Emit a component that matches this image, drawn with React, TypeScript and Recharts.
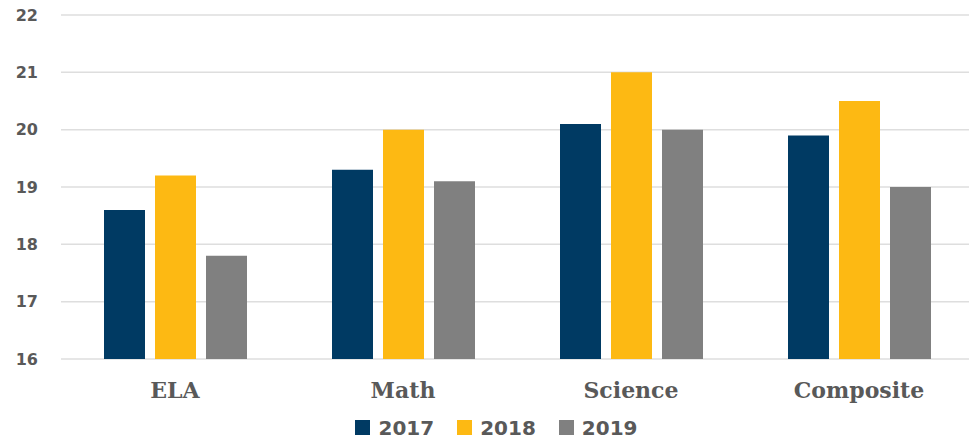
import React from "react";
import { BarChart, Bar, XAxis, YAxis, CartesianGrid, Legend } from "recharts";

const categories = ["ELA", "Math", "Science", "Composite"];
const values2017 = [18.6, 19.3, 20.1, 19.9];
const values2018 = [19.2, 20.0, 21.0, 20.5];
const values2019 = [17.8, 19.1, 20.0, 19.0];
const yTicks = [16, 17, 18, 19, 20, 21, 22];
const seriesNames = ["2017", "2018", "2019"];
const colors = ["#003A63", "#FDB913", "#808080"];

const data = categories.map((c, i) => ({
  name: c,
  "2017": values2017[i],
  "2018": values2018[i],
  "2019": values2019[i],
}));

const textColor = "#595959";

const LegendContent = () => (
  <div
    style={{
      display: "flex",
      justifyContent: "center",
      alignItems: "center",
      height: 37,
      paddingLeft: 20,
    }}
  >
    {seriesNames.map((s, i) => (
      <div key={s} style={{ display: "flex", alignItems: "center", marginRight: i < 2 ? 23 : 0 }}>
        <div style={{ width: 15, height: 15, background: colors[i], marginRight: 8 }} />
        <span
          style={{
            fontFamily: "DejaVu Sans",
            fontWeight: "bold",
            fontSize: 20,
            color: textColor,
            lineHeight: "20px",
          }}
        >
          {s}
        </span>
      </div>
    ))}
  </div>
);

export default function App() {
  return (
    <div style={{ position: "absolute", left: 0, top: 0, width: 969, height: 446, background: "#fff", overflow: "hidden" }}>
      <BarChart
        width={969}
        height={446}
        data={data}
        margin={{ top: 15, right: -4, bottom: 0, left: 0 }}
        barGap={10}
        barSize={41}
      >
        <CartesianGrid vertical={false} stroke="#dedede" strokeWidth={1.5} />
        <XAxis
          dataKey="name"
          height={50}
          axisLine={false}
          tickLine={false}
          tickSize={0}
          tickMargin={23}
          tick={{ fill: textColor, fontFamily: "DejaVu Serif", fontWeight: "bold", fontSize: 22 }}
        />
        <YAxis
          width={61}
          domain={[16, 22]}
          ticks={yTicks}
          interval={0}
          axisLine={false}
          tickLine={false}
          tickSize={0}
          tickMargin={23}
          tick={{ fill: textColor, fontFamily: "DejaVu Sans", fontWeight: "bold", fontSize: 16 }}
        />
        <Legend verticalAlign="bottom" height={37} content={<LegendContent />} />
        {seriesNames.map((s, i) => (
          <Bar key={s} dataKey={s} fill={colors[i]} isAnimationActive={false} />
        ))}
      </BarChart>
    </div>
  );
}
